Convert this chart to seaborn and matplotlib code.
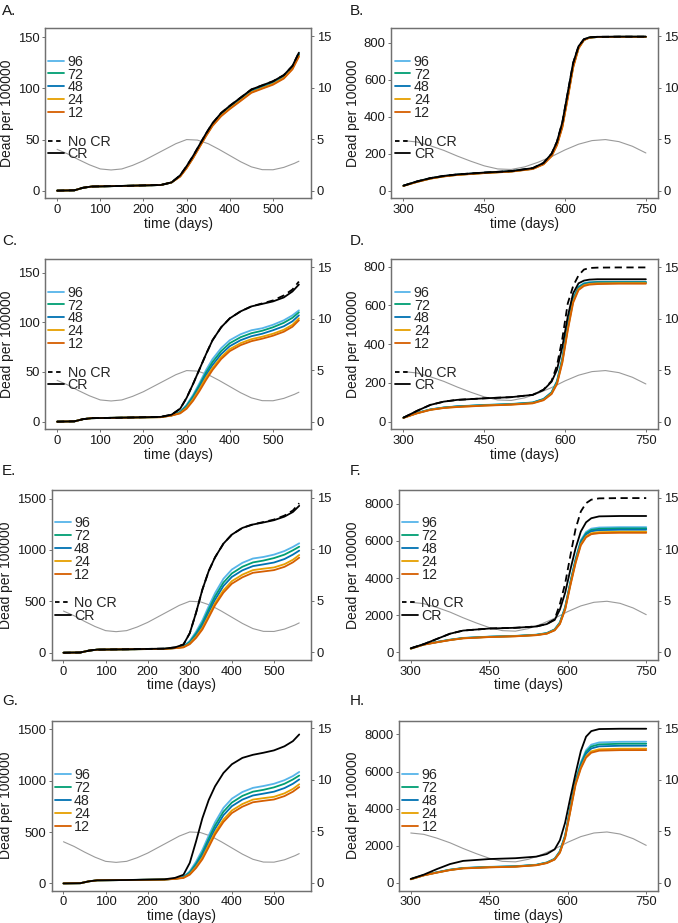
import numpy as np
import pandas as pd
import matplotlib
matplotlib.use("Agg")
import matplotlib.pyplot as plt
import seaborn as sns
from matplotlib.lines import Line2D

# ---------------- data ----------------
TL = [0, 40, 60, 80, 150, 240, 265, 285, 300, 315, 330, 345, 360, 380, 400, 425, 450, 475, 500, 525, 545, 560]
TR = [300, 325, 350, 375, 400, 450, 500, 540, 560, 575, 585, 595, 605, 615, 625, 635, 645, 660, 700, 750]

# seasonal curve (right axis)
TG_L = [0, 25, 50, 75, 100, 125, 150, 175, 200, 225, 250, 275, 300, 325, 350, 375, 400, 425, 450, 475, 500, 525, 550, 560]
GRAY_L = [4.0, 3.55, 3.0, 2.5, 2.1, 2.0, 2.1, 2.45, 2.9, 3.45, 4.0, 4.55, 4.95, 4.9, 4.55, 4.0, 3.4, 2.8, 2.3, 2.03, 2.02, 2.25, 2.65, 2.85]
TG_R = [300, 325, 350, 375, 400, 425, 450, 475, 500, 525, 550, 575, 600, 625, 650, 675, 700, 725, 750]
GRAY_R = [4.85, 4.72, 4.35, 3.9, 3.35, 2.85, 2.4, 2.1, 2.05, 2.3, 2.75, 3.3, 3.95, 4.5, 4.85, 4.95, 4.75, 4.3, 3.65]

labels = ["96", "72", "48", "24", "12"]
colors = ["#56B4E9", "#009E73", "#0072B2", "#E69F00", "#D55E00"]

# Panel A
A_cr   = [0, 0.3, 2.8, 4.0, 4.6, 5.5, 8, 15, 24, 34, 45, 56, 66, 76, 83, 91, 99, 103, 107, 113, 122, 135]
A_nocr = [0, 0.3, 2.8, 4.0, 4.6, 5.5, 8, 15, 24, 34, 45, 56, 66, 76, 83, 91, 99, 103, 107, 113, 122, 135]
A_96 = [0, 0.3, 2.8, 4.0, 4.6, 5.5, 8, 14.5, 23, 33, 44, 55, 65, 75, 82, 90, 98, 102, 106, 112, 121, 134]
A_72 = [0, 0.3, 2.8, 4.0, 4.6, 5.5, 8, 14.3, 22.8, 32.8, 43.7, 54.7, 64.7, 74.5, 81.5, 89.5, 97.5, 101.5, 105.5, 111.5, 120.5, 133.5]
A_48 = [0, 0.3, 2.8, 4.0, 4.6, 5.5, 8, 14.1, 22.5, 32.5, 43.4, 54.3, 64.3, 74, 81, 89, 97, 101, 105, 111, 120, 133]
A_24 = [0, 0.3, 2.8, 4.0, 4.6, 5.5, 8, 13.9, 22.2, 32.1, 43, 53.8, 63.8, 73.4, 80.4, 88.3, 96.3, 100.3, 104.3, 110.3, 119.3, 132]
A_12 = [0, 0.3, 2.8, 4.0, 4.6, 5.5, 8, 13.7, 22, 31.8, 42.6, 53.4, 63.3, 72.8, 79.8, 87.7, 95.7, 99.7, 103.6, 109.6, 118.6, 131]

# Panel C
C_cr   = [0, 0.3, 2.5, 3.5, 4.0, 4.8, 7, 13, 24, 38, 53, 68, 82, 95, 104, 111, 116, 118.5, 121, 125, 131, 138]
C_nocr = [0, 0.3, 2.5, 3.5, 4.0, 4.8, 7, 13, 24, 38, 53, 68, 82, 95, 104, 111, 116, 119, 122, 127, 133, 141]
C_96 = [0, 0.3, 2.5, 3.5, 4.0, 4.6, 6.5, 10, 17, 27, 39, 52, 63, 74, 82, 88, 92, 94, 97.5, 102, 107, 112]
C_72 = [0, 0.3, 2.5, 3.5, 4.0, 4.6, 6.4, 9.6, 16, 25.5, 37, 49.5, 60, 71, 79, 85, 89, 91.5, 95, 99.5, 104.5, 110]
C_48 = [0, 0.3, 2.5, 3.5, 4.0, 4.6, 6.3, 9.2, 15, 24, 35, 47, 57, 68, 76, 82, 86, 88.5, 92, 96, 101, 107]
C_24 = [0, 0.3, 2.5, 3.5, 4.0, 4.5, 6.2, 8.7, 14, 22.5, 33, 44.5, 54, 65, 73, 79, 83, 85.5, 88.5, 92.5, 97.5, 104]
C_12 = [0, 0.3, 2.5, 3.5, 4.0, 4.5, 6.1, 8.3, 13, 21, 31, 42, 52, 63, 71, 77, 81, 83.5, 86.5, 90.5, 95.5, 102]

# Panel E
E_cr   = [0, 2, 20, 30, 33, 40, 52, 80, 190, 390, 615, 795, 928, 1062, 1150, 1215, 1248, 1268, 1290, 1325, 1370, 1430]
E_nocr = [0, 2, 20, 30, 33, 40, 52, 80, 190, 390, 615, 795, 928, 1062, 1150, 1215, 1250, 1272, 1296, 1335, 1385, 1455]
E_96 = [0, 2, 20, 30, 33, 38, 46, 62, 115, 205, 315, 452, 580, 720, 810, 875, 917, 932, 955, 990, 1030, 1065]
E_72 = [0, 2, 20, 30, 33, 38, 46, 59, 105, 188, 290, 422, 548, 683, 772, 837, 879, 897, 921, 955, 997, 1032]
E_48 = [0, 2, 20, 30, 33, 37, 45, 57, 97, 172, 266, 392, 515, 650, 738, 802, 843, 860, 878, 912, 955, 994]
E_24 = [0, 2, 20, 30, 33, 37, 45, 54, 89, 156, 242, 362, 482, 608, 697, 760, 804, 818, 830, 862, 905, 951]
E_12 = [0, 2, 20, 30, 33, 37, 44, 52, 83, 144, 226, 342, 462, 585, 672, 734, 778, 791, 804, 836, 880, 925]

# Panel G
G_cr = [0, 2, 20, 30, 33, 40, 54, 84, 200, 410, 635, 812, 945, 1075, 1160, 1222, 1252, 1272, 1295, 1335, 1385, 1450]
G_96 = [0, 2, 20, 30, 33, 38, 46, 64, 118, 212, 327, 465, 595, 735, 825, 890, 930, 948, 970, 1005, 1045, 1085]
G_72 = [0, 2, 20, 30, 33, 38, 46, 60, 107, 192, 300, 435, 563, 698, 787, 852, 893, 911, 935, 970, 1012, 1050]
G_48 = [0, 2, 20, 30, 33, 37, 45, 58, 99, 177, 276, 405, 530, 664, 752, 816, 856, 874, 893, 928, 970, 1012]
G_24 = [0, 2, 20, 30, 33, 37, 45, 55, 91, 162, 252, 375, 497, 622, 710, 773, 816, 830, 843, 877, 920, 965]
G_12 = [0, 2, 20, 30, 33, 37, 44, 53, 85, 150, 235, 352, 475, 598, 685, 747, 790, 804, 817, 850, 893, 938]

# Panel B
B_cr   = [27, 50, 68, 80, 88, 98, 106, 122, 150, 200, 265, 370, 530, 690, 780, 818, 828, 831, 832, 832]
B_nocr = [27, 50, 68, 80, 88, 98, 106, 122, 150, 200, 265, 370, 530, 690, 780, 818, 828, 831, 832, 832]
B_96 = [27, 49, 67, 79, 87, 97, 105, 120, 147, 195, 258, 360, 518, 680, 775, 816, 827, 830, 831, 831]
B_72 = [27, 48.5, 66.5, 78.5, 86.5, 96.5, 104.5, 119, 146, 193, 255, 355, 513, 676, 773, 815, 827, 830, 831, 831]
B_48 = [26.5, 48, 66, 78, 86, 96, 104, 118.5, 145, 191, 251, 350, 508, 672, 771, 814, 826, 830, 831, 831]
B_24 = [26, 47.5, 65.5, 77.5, 85.5, 95.5, 103.5, 118, 143.5, 188, 248, 346, 503, 668, 769, 814, 826, 830, 831, 831]
B_12 = [26, 47, 65, 77, 85, 95, 103, 117, 142, 186, 245, 342, 498, 664, 768, 813, 826, 830, 831, 831]

# Panel D
D_cr   = [20, 55, 86, 103, 112, 120, 126, 138, 163, 206, 267, 387, 542, 663, 714, 728, 733, 735, 735, 735]
D_nocr = [20, 55, 86, 103, 112, 120, 126, 138, 165, 210, 290, 430, 610, 700, 755, 785, 793, 795, 796, 796]
D_96 = [20, 45, 63, 73, 79, 86, 91, 99, 117, 152, 210, 330, 500, 640, 697, 715, 720, 722, 722, 722]
D_72 = [20, 44, 62, 72, 78, 85, 90, 98, 116, 150, 206, 324, 493, 634, 694, 712, 717, 720, 720, 720]
D_48 = [20, 44, 62, 72, 78, 84, 89, 97, 115, 148, 202, 318, 486, 628, 690, 709, 715, 718, 718, 718]
D_24 = [19, 43, 61, 71, 76, 83, 88, 95, 112, 145, 197, 310, 477, 620, 684, 704, 711, 714, 715, 715]
D_12 = [19, 42, 60, 70, 75, 82, 87, 94, 110, 142, 193, 304, 470, 613, 679, 700, 707, 710, 712, 712]

# Panel F
F_cr   = [215, 440, 720, 1000, 1170, 1280, 1320, 1390, 1520, 1742, 2300, 3200, 4450, 5600, 6505, 7000, 7220, 7320, 7340, 7340]
F_nocr = [215, 440, 720, 1000, 1170, 1280, 1320, 1390, 1530, 1780, 2600, 3700, 5200, 6650, 7583, 8030, 8220, 8290, 8305, 8305]
F_96 = [200, 430, 560, 680, 775, 845, 885, 950, 1040, 1240, 1620, 2450, 3800, 5050, 6040, 6480, 6660, 6720, 6740, 6740]
F_72 = [200, 425, 555, 673, 768, 838, 878, 942, 1030, 1225, 1595, 2410, 3750, 4990, 5970, 6410, 6590, 6650, 6670, 6670]
F_48 = [200, 420, 550, 667, 762, 832, 872, 935, 1020, 1210, 1570, 2370, 3700, 4930, 5910, 6345, 6520, 6580, 6600, 6600]
F_24 = [198, 415, 543, 660, 755, 825, 865, 927, 1010, 1195, 1545, 2320, 3640, 4850, 5810, 6240, 6410, 6470, 6490, 6490]
F_12 = [197, 410, 538, 655, 750, 820, 860, 920, 1000, 1180, 1520, 2290, 3590, 4800, 5760, 6190, 6360, 6415, 6435, 6435]

# Panel H
H_cr = [220, 450, 750, 1020, 1190, 1290, 1335, 1420, 1560, 1812, 2300, 3250, 4600, 5900, 7103, 7880, 8180, 8290, 8307, 8307]
H_96 = [205, 430, 580, 720, 810, 870, 905, 985, 1110, 1310, 1720, 2580, 4080, 5560, 6500, 7150, 7450, 7570, 7605, 7609]
H_72 = [204, 425, 575, 713, 803, 862, 897, 977, 1100, 1298, 1700, 2550, 4030, 5500, 6420, 7060, 7350, 7465, 7498, 7501]
H_48 = [203, 420, 570, 707, 797, 855, 890, 970, 1090, 1285, 1680, 2510, 3980, 5430, 6340, 6960, 7245, 7360, 7390, 7394]
H_24 = [201, 415, 563, 700, 790, 847, 882, 962, 1080, 1274, 1650, 2460, 3900, 5340, 6220, 6820, 7090, 7200, 7230, 7232]
H_12 = [200, 410, 558, 694, 784, 840, 876, 955, 1070, 1262, 1630, 2430, 3860, 5290, 6160, 6750, 7015, 7125, 7155, 7157]

# ---------------- style ----------------
sns.set_theme(style="ticks")
plt.rcParams['font.family'] = ['Liberation Sans', 'DejaVu Sans']
FS_TICK = 9.4
FS_LAB = 10
FS_LEG = 10.3
SPINE = "#707070"

W, H = 678, 923
fig = plt.figure(figsize=(W / 100, H / 100), dpi=100)


def rect(x0, y0, x1, y1):
    return [x0 / W, 1 - y1 / H, (x1 - x0) / W, (y1 - y0) / H]


def panel(r, letter, lxy, t, cols, cr, nocr, tg, gray, xlim, ylim, xticks, yticks,
          leg_top, lt_top):
    ax = fig.add_axes(rect(*r))
    ax2 = ax.twinx()
    ax.set_zorder(ax2.get_zorder() + 1)
    ax.patch.set_visible(False)

    sns.lineplot(x=tg, y=gray, ax=ax2, color="#9a9a9a", linewidth=0.8,
                 estimator=None, sort=False)
    for vals, c in zip(cols, colors):
        sns.lineplot(x=t, y=vals, ax=ax, color=c, linewidth=1.3,
                     estimator=None, sort=False)
    if nocr is not None:
        sns.lineplot(x=t, y=nocr, ax=ax, color="black", linewidth=1.3,
                     linestyle=(0, (4, 2.5)), estimator=None, sort=False)
    sns.lineplot(x=t, y=cr, ax=ax, color="black", linewidth=1.3,
                 estimator=None, sort=False)

    ax.set_xlim(*xlim)
    ax.set_ylim(*ylim)
    ax2.set_ylim(-0.75, 15.75)
    ax.set_xticks(xticks)
    ax.set_yticks(yticks)
    ax2.set_yticks([0, 5, 10, 15])
    ax.set_xlabel("time (days)", fontsize=FS_LAB, labelpad=0.5, color="#1a1a1a")
    ax.set_ylabel("Dead per 100000", fontsize=FS_LAB, labelpad=3, color="#1a1a1a")
    ax2.set_ylabel("")
    for a in (ax, ax2):
        for s in a.spines.values():
            s.set_visible(True)
            s.set_color(SPINE)
            s.set_linewidth(0.9)
        a.tick_params(length=2.5, width=0.7, color=SPINE, pad=1.5,
                      labelsize=FS_TICK, labelcolor="#1a1a1a")
    ax2.tick_params(axis="y", right=True, left=False, labelright=True, labelleft=False)

    hs = [Line2D([], [], color=c, lw=1.3) for c in colors]
    leg = ax.legend(hs, labels, loc="upper left", bbox_to_anchor=(0.012, leg_top),
                    frameon=False, fontsize=FS_LEG, handlelength=1.1, handletextpad=0.25,
                    labelspacing=-0.08, borderpad=0, borderaxespad=0)
    if lt_top is not None:
        ax.add_artist(leg)
        hs2 = [Line2D([], [], color="black", lw=1.3, linestyle=(0, (2.5, 2))),
               Line2D([], [], color="black", lw=1.3)]
        ax.legend(hs2, ["No CR", "CR"], loc="upper left", bbox_to_anchor=(0.012, lt_top),
                  frameon=False, fontsize=FS_LEG, handlelength=1.1, handletextpad=0.25,
                  labelspacing=-0.08, borderpad=0, borderaxespad=0)
    fig.text(lxy[0] / W, 1 - lxy[1] / H, letter, fontsize=11, va="top", ha="left",
             color="#1a1a1a")
    return ax


XL = (-28, 588)
XR = (277.5, 772.5)
xtl = [0, 100, 200, 300, 400, 500]
xtr = [300, 450, 600, 750]

panel((45, 28.3, 311, 198.3), "A.", (2, 4), TL, [A_96, A_72, A_48, A_24, A_12], A_cr, A_nocr,
      TG_L, GRAY_L, XL, (-7.5, 158.8), xtl, [0, 50, 100, 150], 0.845, 0.375)
panel((391.3, 28.3, 658, 198.3), "B.", (349.7, 4), TR, [B_96, B_72, B_48, B_24, B_12], B_cr, B_nocr,
      TG_R, GRAY_R, XR, (-41, 877), xtr, [0, 200, 400, 600, 800], 0.845, 0.375)
panel((45, 259.3, 311, 429.3), "C.", (2, 234), TL, [C_96, C_72, C_48, C_24, C_12], C_cr, C_nocr,
      TG_L, GRAY_L, XL, (-7.7, 163.4), xtl, [0, 50, 100, 150], 0.845, 0.375)
panel((391.3, 259.3, 658, 429.3), "D.", (349.7, 234), TR, [D_96, D_72, D_48, D_24, D_12], D_cr, D_nocr,
      TG_R, GRAY_R, XR, (-40, 838), xtr, [0, 200, 400, 600, 800], 0.845, 0.375)
panel((51.7, 490, 311, 660), "E.", (2, 464), TL, [E_96, E_72, E_48, E_24, E_12], E_cr, E_nocr,
      TG_L, GRAY_L, XL, (-71, 1584), xtl, [0, 500, 1000, 1500], 0.845, 0.375)
panel((399, 490, 658, 660), "F.", (349.7, 464), TR, [F_96, F_72, F_48, F_24, F_12], F_cr, F_nocr,
      TG_R, GRAY_R, XR, (-415, 8740), xtr, [0, 2000, 4000, 6000, 8000], 0.845, 0.375)
panel((51.7, 720.7, 311, 890.7), "G.", (2, 694), TL, [G_96, G_72, G_48, G_24, G_12], G_cr, None,
      TG_L, GRAY_L, XL, (-71, 1584), xtl, [0, 500, 1000, 1500], 0.72, None)
panel((399, 720.7, 658, 890.7), "H.", (349.7, 694), TR, [H_96, H_72, H_48, H_24, H_12], H_cr, None,
      TG_R, GRAY_R, XR, (-415, 8740), xtr, [0, 2000, 4000, 6000, 8000], 0.72, None)

fig.savefig("out.png", dpi=100)
